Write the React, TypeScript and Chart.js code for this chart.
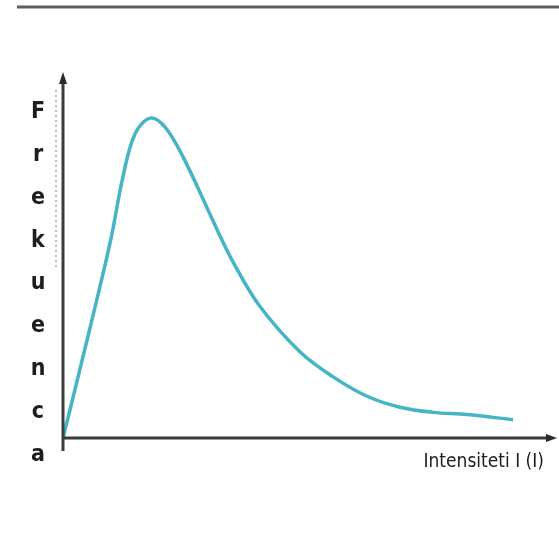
import React, { useEffect, useRef } from "react";
import { Chart, registerables } from "chart.js";

Chart.register(...registerables);

const intensity: number[] = [0, 4.9, 9.6, 12.2, 14.6, 17.7, 20.7, 24.4, 31.3, 34.6, 40.0, 48.2, 54.9, 61.8, 68.5, 75.2, 82.1, 91.5];
const frequency: number[] = [0, 26.8, 53.5, 71.5, 83.0, 87.4, 85.0, 76.8, 57.0, 48.0, 36.0, 23.5, 16.7, 11.4, 8.4, 7.0, 6.4, 5.0];
const yLetters: string[] = ["F", "r", "e", "k", "u", "e", "n", "c", "a"];
const xTitle = "Intensiteti I (I)";

const axesPlugin = {
  id: "axesPlugin",
  afterDraw(chart: any) {
    const ctx = chart.ctx;
    const xs = chart.scales.x;
    const ys = chart.scales.y;
    const x0 = xs.getPixelForValue(0);
    const y0 = ys.getPixelForValue(0);
    const yTop = ys.getPixelForValue(100);
    const xEnd = xs.getPixelForValue(100);
    ctx.save();
    // top rule
    ctx.strokeStyle = "#5a5f63";
    ctx.lineWidth = 3;
    ctx.beginPath();
    ctx.moveTo(17, 7);
    ctx.lineTo(chart.width, 7);
    ctx.stroke();
    // axes
    ctx.strokeStyle = "#3b3b3b";
    ctx.fillStyle = "#2b2b2b";
    ctx.lineWidth = 3;
    ctx.beginPath();
    ctx.moveTo(x0, y0 + 13);
    ctx.lineTo(x0, yTop + 6);
    ctx.moveTo(x0, y0);
    ctx.lineTo(xEnd - 4, y0);
    ctx.stroke();
    // arrows
    ctx.beginPath();
    ctx.moveTo(x0, yTop);
    ctx.lineTo(x0 - 4, yTop + 12);
    ctx.lineTo(x0 + 4, yTop + 12);
    ctx.closePath();
    ctx.fill();
    ctx.beginPath();
    ctx.moveTo(xEnd + 2, y0);
    ctx.lineTo(xEnd - 9, y0 - 4);
    ctx.lineTo(xEnd - 9, y0 + 4);
    ctx.closePath();
    ctx.fill();
    // dotted guide
    ctx.strokeStyle = "rgba(60,60,60,0.7)";
    ctx.lineWidth = 1;
    ctx.setLineDash([2, 3]);
    ctx.beginPath();
    ctx.moveTo(x0 - 7, yTop + 18);
    ctx.lineTo(x0 - 7, ys.getPixelForValue(46));
    ctx.stroke();
    ctx.setLineDash([]);
    // y letters
    ctx.fillStyle = "#1e1e1e";
    ctx.font = "bold 23px 'DejaVu Sans Condensed', 'Open Sans', sans-serif";
    ctx.textAlign = "center";
    ctx.textBaseline = "middle";
    const firstY = 112;
    const step = (455 - 112) / (yLetters.length - 1);
    yLetters.forEach((l, i) => {
      ctx.fillText(l, 38, firstY + i * step);
    });
    // x title
    ctx.font = "19px 'DejaVu Sans Condensed', 'Open Sans', sans-serif";
    ctx.textAlign = "right";
    ctx.fillText(xTitle, 544, 462);
    ctx.restore();
  },
};

export default function App() {
  const ref = useRef<HTMLCanvasElement | null>(null);
  useEffect(() => {
    if (!ref.current) return;
    const chart = new Chart(ref.current, {
      type: "line",
      data: {
        datasets: [
          {
            data: intensity.map((x, i) => ({ x, y: frequency[i] })),
            borderColor: "#45b5c6",
            borderWidth: 3.5,
            pointRadius: 0,
            tension: 0.35,
            fill: false,
          },
        ],
      },
      plugins: [axesPlugin],
      options: {
        animation: false,
        responsive: false,
        maintainAspectRatio: false,
        layout: { padding: { left: 63, right: 4, top: 72, bottom: 102 } },
        plugins: { legend: { display: false }, tooltip: { enabled: false } },
        scales: {
          x: {
            type: "linear",
            min: 0,
            max: 100,
            display: false,
          },
          y: {
            type: "linear",
            min: 0,
            max: 100,
            display: false,
          },
        },
      } as any,
    });
    return () => chart.destroy();
  }, []);
  return (
    <div style={{ position: "fixed", left: 0, top: 0, width: 559, height: 540, background: "#fff" }}>
      <canvas ref={ref} width={559} height={540} style={{ width: 559, height: 540 }} />
    </div>
  );
}
